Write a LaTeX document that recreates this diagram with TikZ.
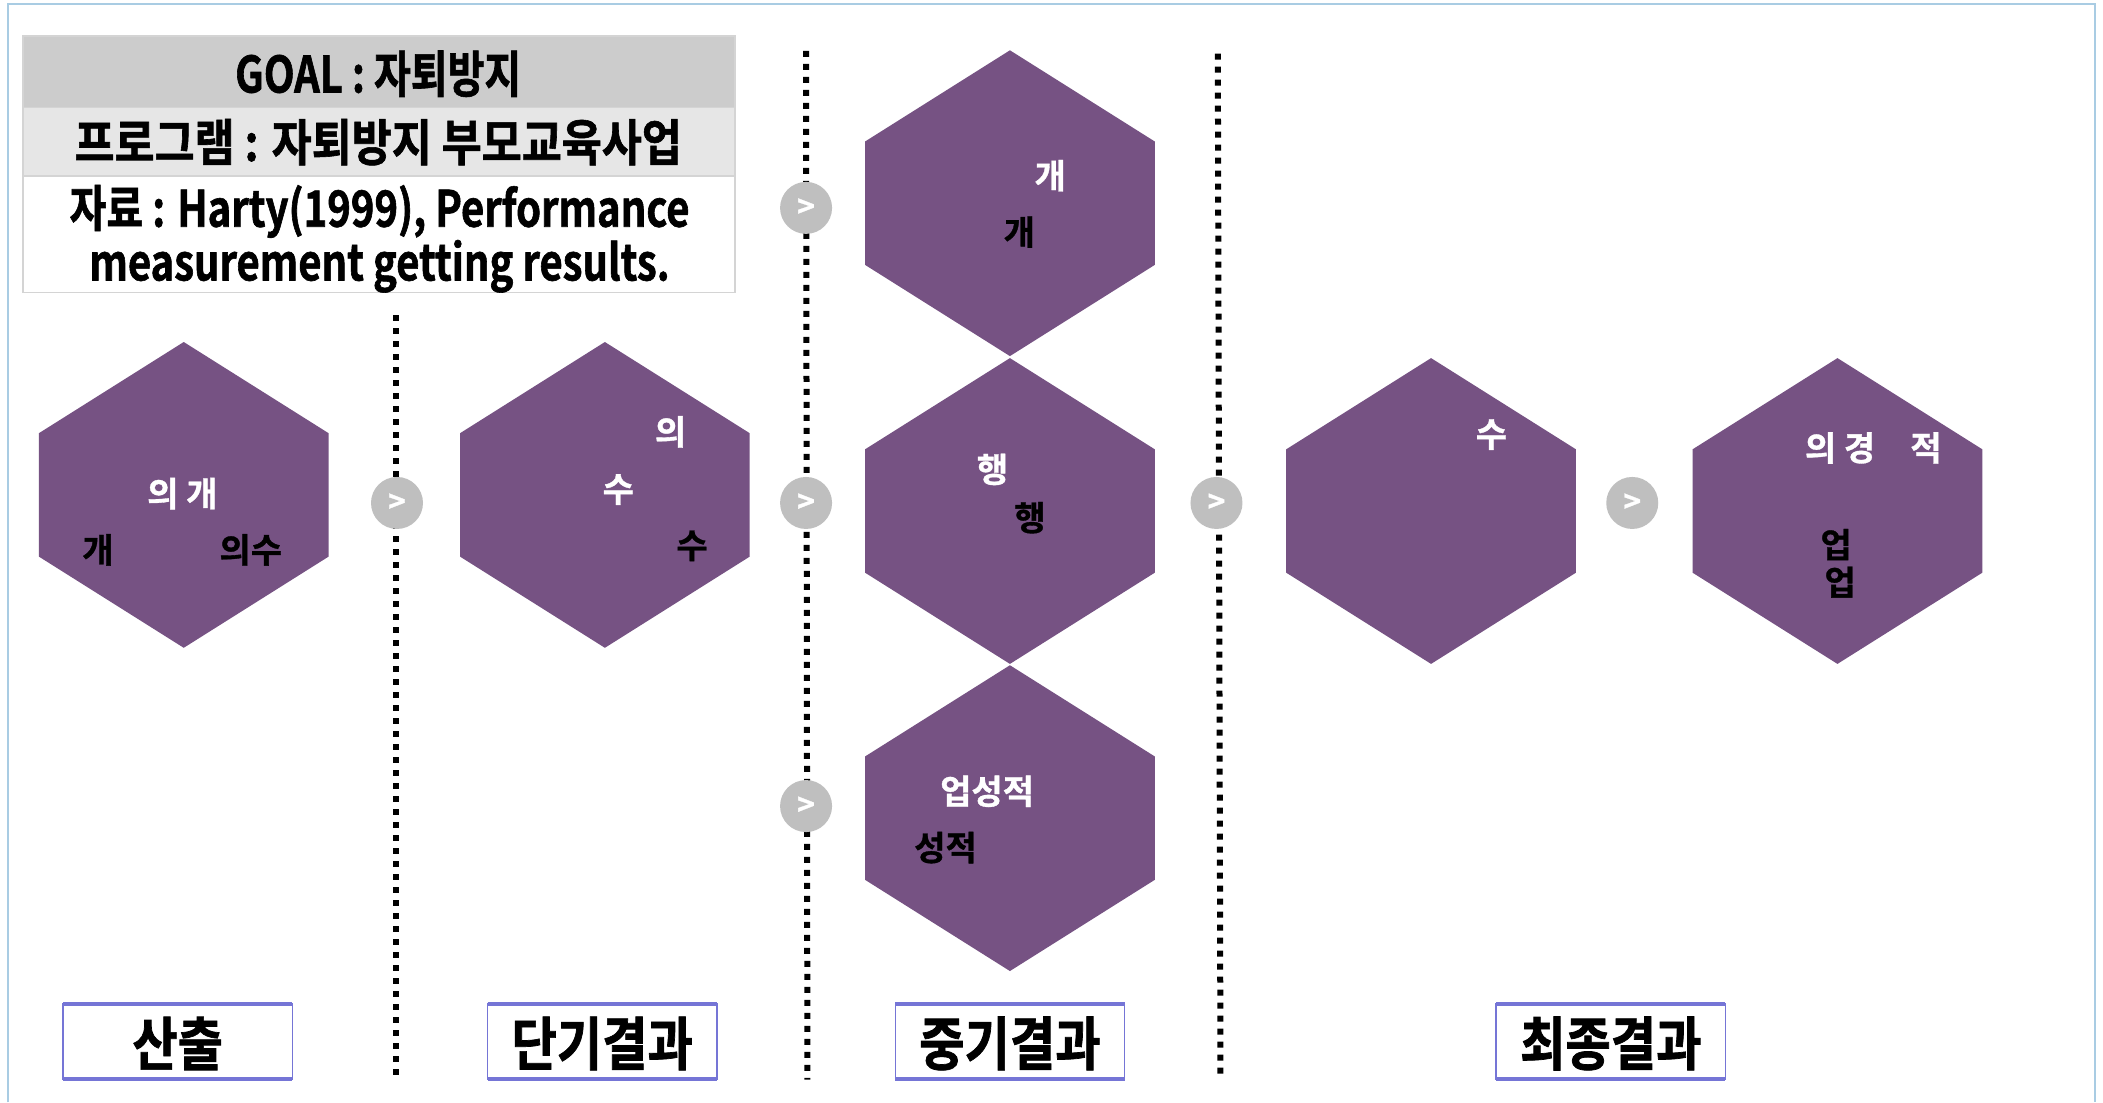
\documentclass[tikz,border=0pt]{standalone}
\usepackage{fontspec}
\newfontfamily\kr{Noto Sans CJK KR Bold}[FakeBold=1]
\newfontfamily\krc{Noto Sans CJK KR Bold}[FakeStretch=0.8,FakeBold=1.2]
\newfontfamily\krd{Noto Sans CJK KR Bold}[FakeStretch=0.87,FakeBold=1.2]
\newfontfamily\kre{Noto Sans CJK KR Bold}[FakeStretch=0.85,FakeBold=1.2]
\definecolor{hexc}{HTML}{765283}
\definecolor{framec}{HTML}{A9CCE3}
\definecolor{gA}{HTML}{CCCCCC}
\definecolor{gB}{HTML}{E6E6E6}
\definecolor{gline}{HTML}{D4D4D4}
\definecolor{circc}{HTML}{BFBFBF}
\definecolor{labc}{HTML}{7575D6}
\begin{document}
\begin{tikzpicture}[x=0.6706pt,y=-0.6706pt,
  ttl/.style={inner sep=0pt, font=\krc\fontsize{25}{24}\selectfont, text=black},
  wt/.style={inner sep=0pt, font=\kr\fontsize{17}{18}\selectfont, text=white},
  bt/.style={inner sep=0pt, font=\kr\fontsize{17}{18}\selectfont, text=black},
  sep/.style={line width=3pt, dash pattern=on 3pt off 3.5pt, black},
  arr/.style={circle, fill=circc, minimum size=26pt, inner sep=0pt, text=white, font=\kr\fontsize{15}{15}\selectfont},
  lab/.style={inner sep=0pt, font=\kre\fontsize{29}{30}\selectfont, text=black},
  hexfill/.style={fill=hexc}]
\useasboundingbox (0,0) rectangle (1568,822);
\fill[white] (0,0) rectangle (1568,822);
% frame
\draw[framec, line width=1pt] (6,822) -- (6,3) -- (1562,3) -- (1562,822);
% title box
\fill[gA] (17,27) rectangle (548,80);
\fill[gB] (17,80) rectangle (548,131);
\draw[gline, line width=0.8pt] (17,27) rectangle (548,218);
\draw[gline, line width=0.8pt] (17,80) -- (548,80);
\draw[gline, line width=0.8pt] (17,131) -- (548,131);
\node[ttl] (goal) at (282,55) {GOAL : 자퇴방지};
\node[ttl, font=\krd\fontsize{25}{24}\selectfont] (prog) at (282,106) {프로그램 : 자퇴방지 부모교육사업};
\node[ttl, align=center] (src) at (283,178) {자료 : Harty(1999), Performance\\measurement getting results.};
% separators
\coordinate (s1a) at (295,235); \coordinate (s1b) at (295,805);
\coordinate (s2a) at (601,38);  \coordinate (s2b) at (602,805);
\coordinate (s3a) at (908,40);  \coordinate (s3b) at (910,805);
\draw[sep] (s1a) -- (s1b);
\draw[sep] (s2a) -- (s2b);
\draw[sep] (s3a) -- (s3b);
% hexagons
\newcommand\hexshape[2]{\fill[hexfill] (#1,#2) ++(0,-114) -- ++(108,68) -- ++(0,92) -- ++(-108,68) -- ++(-108,-68) -- ++(0,-92) -- cycle;}
\hexshape{137}{369}
\hexshape{451}{369}
\hexshape{753}{151.5}
\hexshape{753}{381}
\hexshape{753}{610}
\hexshape{1067}{381}
\hexshape{1370}{381}
% hex texts
\node[wt] (h1a) at (136,368) {의 개};
\node[bt] (h1b) at (73,410) {개};
\node[bt] (h1c) at (187,410) {의수};
\node[wt] (h2a) at (500,322) {의};
\node[wt] (h2b) at (461,365) {수};
\node[bt] (h2c) at (516,407) {수};
\node[wt] (h3a) at (783,131) {개};
\node[bt] (h3b) at (760,173) {개};
\node[wt] (h4a) at (740,350) {행};
\node[bt] (h4b) at (768,386) {행};
\node[wt] (h5a) at (736,590) {업성적};
\node[bt] (h5b) at (705,632) {성적};
\node[wt] (h6a) at (1112,324) {수};
\node[wt] (h7a) at (1372,334) {의 경};
\node[wt] (h7b) at (1436,334) {적};
\node[bt] (h7c) at (1369,406) {업};
\node[bt] (h7d) at (1372,434) {업};
% circles
\node[arr] (c1) at (296,375) {>};
\node[arr] (c2) at (601,155) {>};
\node[arr] (c3) at (601,375) {>};
\node[arr] (c4) at (601,601) {>};
\node[arr] (c5) at (907,375) {>};
\node[arr] (c6) at (1217,375) {>};
% bottom labels
\newcommand\labbox[3]{%
  \fill[white] (#1-85.5,748) rectangle (#1+85.5,805);
  \draw[labc, line width=0.7pt] (#1-85.5,748) rectangle (#1+85.5,805);
  \draw[labc, line width=1.6pt] (#1-85.5,748.5) -- (#1+85.5,748.5);
  \draw[labc, line width=1.6pt] (#1-85.5,804.5) -- (#1+85.5,804.5);
  \node[lab] (#2) at (#1,778) {#3};}
\labbox{132.5}{l1}{산출}
\labbox{449}{l2}{단기결과}
\labbox{753}{l3}{중기결과}
\labbox{1201}{l4}{최종결과}
\end{tikzpicture}
\end{document}
